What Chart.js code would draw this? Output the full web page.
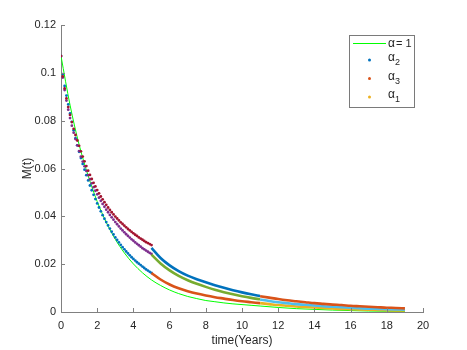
<!DOCTYPE html>
<html lang="en">
<head>
<meta charset="UTF-8">
<title>M(t)</title>
<script src="https://cdn.jsdelivr.net/npm/chart.js"></script>
<style>
    body { margin: 0; background: #fff; }
    #wrap { width: 467px; height: 350px; position: relative; }
</style>
</head>
<body>
<div id="wrap"><canvas id="chart"></canvas></div>
<script>
// time grids (years)
const t1 = [0,0.1,0.2,0.3,0.4,0.5,0.6,0.7,0.8,0.9,1.0,1.1,1.2,1.3,1.4,1.5,1.6,1.7,1.8,1.9,2.0,
            2.1,2.2,2.3,2.4,2.5,2.6,2.7,2.8,2.9,3.0,3.1,3.2,3.3,3.4,3.5,3.6,3.7,3.8,3.9,4.0,
            4.1,4.2,4.3,4.4,4.5,4.6,4.7,4.8,4.9,5.0];
const t2 = [5,5.5,6,6.5,7,7.5,8,8.5,9,9.5,10,10.5,11];
const t3 = [11,11.5,12,12.5,13,13.5,14,14.5,15,15.5,16,16.5,17,17.5,18,18.5,19];
const tLine = [0,0.5,1,1.5,2,2.5,3,3.5,4,4.5,5,5.5,6,6.5,7,7.5,8,8.5,9,9.5,10,10.5,11,12,13,14,15,16,17,18,19];

// alpha = 1 (solid line)
const mLine = [0.1070,0.0865,0.0700,0.0570,0.0462,0.0375,0.0304,0.0247,0.0201,0.0164,0.0134,0.0111,
               0.0092,0.0077,0.0065,0.0056,0.0048,0.0043,0.0038,0.0034,0.0031,0.0028,0.0025,
               0.0019,0.0014,0.0011,0.0008,0.0006,0.0004,0.0003,0.0002];

// lowest chain: 0-5, 5-11, 11-19
const lowSeg1 = [0.1070,0.0995,0.0945,0.0905,0.0868,0.0830,0.0795,0.0760,0.0727,0.0697,0.0670,
                 0.0644,0.0619,0.0595,0.0572,0.0550,0.0529,0.0509,0.0490,0.0472,0.0454,
                 0.0437,0.0421,0.0405,0.0390,0.0376,0.0362,0.0349,0.0336,0.0324,0.0312,
                 0.0301,0.0291,0.0281,0.0271,0.0262,0.0253,0.0245,0.0237,0.0229,0.0222,
                 0.0215,0.0208,0.0202,0.0196,0.0190,0.0184,0.0178,0.0173,0.0168,0.0163];
const lowSeg2 = [0.0163,0.0136,0.0115,0.0099,0.0087,0.0077,0.0069,0.0062,0.0056,0.0050,0.0045,0.0041,0.0037];
const lowSeg3 = [0.0037,0.0033,0.0029,0.0026,0.0023,0.0021,0.0019,0.0017,0.0015,0.0013,0.0012,0.0011,
                 0.0010,0.0009,0.0008,0.0007,0.0006];

// middle chain
const midSeg1 = [0.1070,0.0980,0.0928,0.0884,0.0846,0.0811,0.0779,0.0750,0.0723,0.0697,0.0673,
                 0.0650,0.0629,0.0609,0.0590,0.0572,0.0555,0.0538,0.0522,0.0507,0.0492,
                 0.0478,0.0465,0.0452,0.0440,0.0428,0.0417,0.0406,0.0396,0.0386,0.0376,
                 0.0367,0.0358,0.0349,0.0341,0.0333,0.0325,0.0318,0.0311,0.0304,0.0298,
                 0.0291,0.0285,0.0279,0.0273,0.0267,0.0262,0.0257,0.0252,0.0247,0.0243];
const midSeg2 = [0.0240,0.0203,0.0174,0.0151,0.0133,0.0118,0.0105,0.0093,0.0083,0.0074,0.0066,0.0059,0.0053];
const midSeg3 = [0.0052,0.0046,0.0041,0.0037,0.0033,0.0030,0.0027,0.0024,0.0022,0.0020,0.0018,0.0016,
                 0.0014,0.0013,0.0012,0.0011,0.0010];

// top chain
const topSeg1 = [0.1070,0.0985,0.0935,0.0893,0.0857,0.0824,0.0794,0.0766,0.0740,0.0717,0.0695,
                 0.0672,0.0650,0.0630,0.0610,0.0591,0.0573,0.0556,0.0540,0.0525,0.0510,
                 0.0496,0.0483,0.0471,0.0459,0.0448,0.0437,0.0427,0.0417,0.0408,0.0399,
                 0.0391,0.0383,0.0375,0.0368,0.0361,0.0354,0.0347,0.0341,0.0335,0.0329,
                 0.0323,0.0318,0.0312,0.0307,0.0302,0.0297,0.0292,0.0288,0.0284,0.0280];
const topSeg2 = [0.0268,0.0226,0.0195,0.0171,0.0152,0.0137,0.0124,0.0112,0.0101,0.0091,0.0082,0.0074,0.0067];
const topSeg3 = [0.0066,0.0060,0.0054,0.0049,0.0045,0.0041,0.0037,0.0034,0.0031,0.0029,0.0026,0.0024,
                 0.0022,0.0020,0.0018,0.0017,0.0015];

const xTicks = [0,2,4,6,8,10,12,14,16,18,20];
const yTickLabels = ['0','0.02','0.04','0.06','0.08','0.1','0.12'];
const legendLabels = ['= 1', '2', '3', '1'];

const C = {
    blue: '#0072BD', orange: '#D95319', yellow: '#EDB120', purple: '#7E2F8E',
    green: '#77AC30', lblue: '#4DBEEE', red: '#A2142F', line: '#00FF00'
};

function pts(ts, vs) { return ts.map((t, i) => ({ x: t, y: vs[i] })); }

function dots(data, color) {
    return { data: data, showLine: false, pointRadius: 1.4, pointBorderWidth: 0,
             pointBackgroundColor: color, borderColor: color, backgroundColor: color };
}
function thick(data, color) {
    return { data: data, showLine: true, borderWidth: 2.6, borderColor: color, pointRadius: 0,
             cubicInterpolationMode: 'monotone', fill: false };
}

// same order as the original plot calls; later ones sit on top
const sets = [
    { data: pts(tLine, mLine), showLine: true, borderColor: C.line, borderWidth: 1, pointRadius: 0,
      cubicInterpolationMode: 'monotone', fill: false },
    dots(pts(t1, lowSeg1), C.blue),
    thick(pts(t2, lowSeg2), C.orange),
    thick(pts(t3, lowSeg3), C.yellow),
    dots(pts(t1, midSeg1), C.purple),
    thick(pts(t2, midSeg2), C.green),
    thick(pts(t3, midSeg3), C.lblue),
    dots(pts(t1, topSeg1), C.red),
    thick(pts(t2, topSeg2), C.blue),
    thick(pts(t3, topSeg3), C.orange)
];
sets.forEach((s, i) => { s.order = sets.length - i; });

const AXIS = '#808080';
const FONT = '"Liberation Sans", Arial, sans-serif';

const inwardTicks = {
    id: 'inwardTicks',
    afterDatasetsDraw(chart) {
        const { ctx, chartArea, scales } = chart;
        ctx.save();
        ctx.strokeStyle = AXIS;
        ctx.lineWidth = 1;
        ctx.beginPath();
        scales.x.ticks.forEach(tk => {
            const px = Math.round(scales.x.getPixelForValue(tk.value)) + 0.5;
            ctx.moveTo(px, chartArea.bottom);
            ctx.lineTo(px, chartArea.bottom - 4);
        });
        scales.y.ticks.forEach(tk => {
            const py = Math.round(scales.y.getPixelForValue(tk.value)) + 0.5;
            ctx.moveTo(chartArea.left, py);
            ctx.lineTo(chartArea.left + 4, py);
        });
        ctx.stroke();
        ctx.restore();
    }
};

const boxLegend = {
    id: 'boxLegend',
    afterDraw(chart) {
        const ctx = chart.ctx;
        const L = 349.5, T = 35.5, W = 65, H = 72;
        ctx.save();
        ctx.fillStyle = '#fff';
        ctx.fillRect(L, T, W, H);
        ctx.strokeStyle = '#7a7a7a';
        ctx.lineWidth = 1;
        ctx.strokeRect(L, T, W, H);

        ctx.textBaseline = 'middle';
        ctx.fillStyle = '#262626';
        const rows = [43.5, 60, 78.5, 97];
        // line sample
        ctx.strokeStyle = C.line;
        ctx.beginPath();
        ctx.moveTo(353, rows[0]);
        ctx.lineTo(386, rows[0]);
        ctx.stroke();
        ctx.font = '12px ' + FONT;
        ctx.fillText('\u03b1', 388, rows[0]);
        ctx.font = '11px ' + FONT;
        ctx.fillText(legendLabels[0], 396, rows[0] + 0.5);

        const dotColors = [C.blue, C.orange, C.yellow];
        for (let i = 1; i < 4; i++) {
            ctx.fillStyle = dotColors[i - 1];
            ctx.beginPath();
            ctx.arc(369.5, rows[i], 1.5, 0, Math.PI * 2);
            ctx.fill();
            ctx.fillStyle = '#262626';
            ctx.font = '12px ' + FONT;
            ctx.fillText('\u03b1', 388, rows[i] - 2);
            ctx.font = '9px ' + FONT;
            ctx.fillText(legendLabels[i], 395, rows[i] + 3);
        }
        ctx.restore();
    }
};

const tickFont = { family: FONT, size: 11 };

new Chart(document.getElementById('chart'), {
    type: 'scatter',
    data: { datasets: sets },
    plugins: [inwardTicks, boxLegend],
    options: {
        responsive: true,
        maintainAspectRatio: false,
        animation: false,
        devicePixelRatio: 1,
        layout: { padding: { left: 20, top: 25, right: 44, bottom: 0 } },
        plugins: { legend: { display: false }, tooltip: { enabled: false } },
        scales: {
            x: {
                type: 'linear', min: 0, max: 20,
                afterBuildTicks: s => { s.ticks = xTicks.map(v => ({ value: v })); },
                afterFit: s => { s.height = 38; },
                grid: { display: false, drawTicks: false },
                border: { display: true, color: AXIS, width: 1 },
                ticks: { color: '#262626', font: tickFont, padding: 7, maxRotation: 0,
                         callback: v => String(v) },
                title: { display: true, text: 'time(Years)', color: '#262626',
                         font: { family: FONT, size: 12 }, padding: { top: 0, bottom: 2 } }
            },
            y: {
                type: 'linear', min: 0, max: 0.12,
                afterBuildTicks: s => { s.ticks = yTickLabels.map(l => ({ value: parseFloat(l) })); },
                afterFit: s => { s.width = 41; },
                grid: { display: false, drawTicks: false },
                border: { display: true, color: AXIS, width: 1 },
                ticks: { color: '#262626', font: tickFont, padding: 5,
                         callback: (v, i) => yTickLabels[i] },
                title: { display: true, text: 'M(t)', color: '#262626',
                         font: { family: FONT, size: 12 }, padding: { top: 0, bottom: 0 } }
            }
        }
    }
});
</script>
</body>
</html>
